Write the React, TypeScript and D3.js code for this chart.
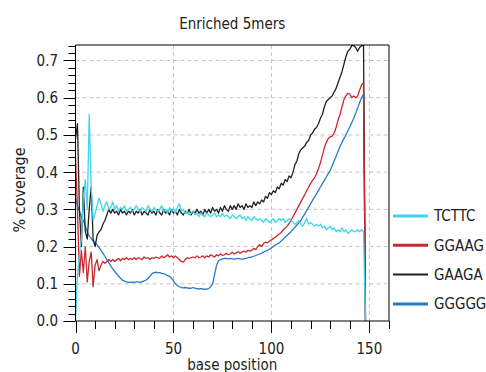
import React from "react";
import * as d3 from "d3";

const seriesNames = ["TCTTC", "GGAAG", "GAAGA", "GGGGG"];
const seriesColors = ["#3dd6ef", "#c8292f", "#222222", "#2b7bc4"];

const tcttc = [
  0.0, 0.12, 0.18, 0.22, 0.33, 0.38, 0.3, 0.555, 0.36, 0.27,
  0.29, 0.31, 0.33, 0.315, 0.295, 0.31, 0.32, 0.3, 0.305, 0.32,
  0.3, 0.31, 0.295, 0.305, 0.3, 0.31, 0.295, 0.3, 0.305, 0.295,
  0.3, 0.31, 0.3, 0.295, 0.305, 0.3, 0.295, 0.31, 0.3, 0.295,
  0.305, 0.3, 0.295, 0.3, 0.31, 0.295, 0.3, 0.29, 0.305, 0.295,
  0.3, 0.29, 0.305, 0.315, 0.295, 0.3, 0.29, 0.295, 0.285, 0.29,
  0.295, 0.285, 0.29, 0.28, 0.29, 0.285, 0.28, 0.29, 0.285, 0.28,
  0.285, 0.29, 0.28, 0.285, 0.28, 0.29, 0.28, 0.285, 0.28, 0.275,
  0.285, 0.28, 0.275, 0.28, 0.285, 0.275, 0.28, 0.27, 0.28, 0.275,
  0.27, 0.28, 0.275, 0.27, 0.275, 0.27, 0.265, 0.275, 0.27, 0.265,
  0.27, 0.275, 0.265, 0.27, 0.275, 0.27, 0.275, 0.265, 0.27, 0.275,
  0.27, 0.265, 0.26, 0.265, 0.27, 0.26, 0.255, 0.265, 0.275, 0.26,
  0.265, 0.26, 0.255, 0.26, 0.255, 0.26, 0.25, 0.255, 0.245, 0.25,
  0.255, 0.245, 0.25, 0.24, 0.245, 0.24, 0.25, 0.24, 0.245, 0.235,
  0.24, 0.245, 0.24, 0.24, 0.245, 0.24, 0.245, 0.24, 0.0, 0.0,
];

const ggaag = [
  0.44, 0.3, 0.12, 0.19, 0.13, 0.2, 0.105, 0.16, 0.185, 0.092,
  0.15, 0.165, 0.135, 0.15, 0.16, 0.155, 0.16, 0.165, 0.16, 0.165,
  0.16, 0.165, 0.168, 0.162, 0.168, 0.165, 0.17, 0.165, 0.168, 0.165,
  0.17, 0.165, 0.17, 0.168, 0.165, 0.172, 0.168, 0.17, 0.165, 0.17,
  0.168, 0.172, 0.17, 0.168, 0.175, 0.17, 0.173, 0.178, 0.172, 0.175,
  0.17, 0.175, 0.17, 0.165, 0.16, 0.158, 0.165, 0.17, 0.168, 0.17,
  0.172, 0.17, 0.175, 0.17, 0.172, 0.175, 0.17, 0.175, 0.172, 0.178,
  0.175, 0.172, 0.178, 0.175, 0.18, 0.176, 0.178, 0.182, 0.178, 0.18,
  0.185, 0.18, 0.183, 0.186, 0.182, 0.185, 0.188, 0.185, 0.19, 0.188,
  0.19, 0.195, 0.192, 0.2, 0.205, 0.2, 0.208, 0.212, 0.21, 0.215,
  0.218, 0.222, 0.225, 0.23, 0.234, 0.238, 0.245, 0.25, 0.255, 0.262,
  0.27, 0.28, 0.29, 0.3, 0.31, 0.32, 0.33, 0.34, 0.35, 0.36,
  0.37, 0.378, 0.385, 0.395, 0.41, 0.425, 0.445, 0.465, 0.48, 0.49,
  0.495, 0.497, 0.505, 0.52, 0.54, 0.555, 0.575, 0.595, 0.605, 0.612,
  0.61, 0.6, 0.605, 0.6, 0.605, 0.62, 0.635, 0.64, 0.0,
];

const gaaga = [
  0.49, 0.53, 0.3, 0.2, 0.36, 0.24, 0.22, 0.3, 0.36, 0.22,
  0.2, 0.23, 0.24, 0.245, 0.26, 0.27, 0.285, 0.3, 0.29, 0.3,
  0.29, 0.295, 0.285, 0.3, 0.29, 0.295, 0.285, 0.295, 0.29, 0.3,
  0.285, 0.295, 0.29, 0.3, 0.285, 0.295, 0.29, 0.285, 0.3, 0.29,
  0.295, 0.285, 0.3, 0.29, 0.285, 0.3, 0.29, 0.295, 0.285, 0.3,
  0.29, 0.295, 0.285, 0.3, 0.29, 0.285, 0.295, 0.29, 0.3, 0.285,
  0.295, 0.29, 0.3, 0.29, 0.295, 0.285, 0.3, 0.29, 0.3, 0.29,
  0.305, 0.295, 0.3, 0.29, 0.305, 0.295, 0.31, 0.3, 0.295, 0.31,
  0.3, 0.31, 0.3, 0.315, 0.305, 0.31, 0.3, 0.315, 0.305, 0.31,
  0.305, 0.32, 0.31, 0.32, 0.315, 0.325, 0.32, 0.335, 0.33, 0.345,
  0.34, 0.35, 0.345, 0.36, 0.355, 0.37, 0.365, 0.38, 0.375, 0.39,
  0.385, 0.4, 0.42, 0.43, 0.45, 0.46, 0.465, 0.47, 0.48, 0.485,
  0.5, 0.505, 0.515, 0.52, 0.53, 0.545, 0.555, 0.575, 0.59, 0.595,
  0.6, 0.605, 0.615, 0.625, 0.64, 0.655, 0.67, 0.69, 0.71, 0.725,
  0.73, 0.74, 0.74, 0.735, 0.725, 0.735, 0.74, 0.74, 0.0,
];

const ggggg = [
  0.33, 0.31, 0.295, 0.28, 0.27, 0.255, 0.24, 0.228, 0.222, 0.215,
  0.21, 0.205, 0.198, 0.19, 0.182, 0.174, 0.165, 0.157, 0.148, 0.14,
  0.133, 0.127, 0.12, 0.115, 0.11, 0.107, 0.105, 0.104, 0.104, 0.105,
  0.104, 0.105, 0.105, 0.104, 0.106, 0.108, 0.11, 0.115, 0.12, 0.127,
  0.13, 0.131, 0.13, 0.13, 0.128, 0.127, 0.125, 0.122, 0.12, 0.115,
  0.108, 0.1, 0.095, 0.092, 0.09, 0.089, 0.09, 0.089, 0.088, 0.088,
  0.09, 0.088, 0.087, 0.086, 0.087, 0.086, 0.085, 0.086, 0.087, 0.092,
  0.1, 0.125, 0.15, 0.162, 0.165, 0.167, 0.168, 0.168, 0.167, 0.168,
  0.167, 0.166, 0.167, 0.168, 0.167, 0.166, 0.167, 0.168, 0.17, 0.171,
  0.172, 0.174, 0.176, 0.178, 0.18, 0.182, 0.185, 0.188, 0.19, 0.193,
  0.197, 0.2, 0.204, 0.207, 0.21, 0.215, 0.22, 0.225, 0.23, 0.235,
  0.24, 0.246, 0.252, 0.258, 0.264, 0.27, 0.279, 0.288, 0.297, 0.306,
  0.315, 0.324, 0.333, 0.342, 0.351, 0.36, 0.369, 0.378, 0.387, 0.396,
  0.405, 0.417, 0.43, 0.443, 0.456, 0.469, 0.48, 0.49, 0.5, 0.511,
  0.522, 0.533, 0.545, 0.558, 0.572, 0.587, 0.6, 0.61, 0.0,
];

const seriesValues = [tcttc, ggaag, gaaga, ggggg];
const drawOrder = [3, 2, 1, 0];

const yTicks = [0, 0.1, 0.2, 0.3, 0.4, 0.5, 0.6, 0.7];
const xTicks = [0, 50, 100, 150];
const titleText = "Enriched 5mers";
const xLabel = "base position";
const yLabel = "% coverage";

const W = 486;
const H = 372;
const L = 75.5;
const R = 389;
const T = 45;
const B = 321;
const FONT = "'DejaVu Sans Condensed', 'DejaVu Sans', sans-serif";

export default function App() {
  const x = d3.scaleLinear().domain([0, 160]).range([L, R]);
  const y = d3.scaleLinear().domain([0, 0.7]).range([B, 60.5]);
  const line = d3
    .line<number>()
    .x((_, i) => x(i))
    .y((d) => y(d));

  const minorY = d3.range(0, 0.741, 0.02);
  const minorX = d3.range(0, 161, 10);

  return (
    <svg
      width={W}
      height={H}
      style={{ position: "absolute", left: 0, top: 0, background: "#fff" }}
      fontFamily={FONT}
    >
      <defs>
        <clipPath id="plotclip">
          <rect x={L} y={T} width={R - L} height={B - T} />
        </clipPath>
      </defs>
      <rect x={0} y={0} width={W} height={H} fill="#fff" />
      <text x={(L + R) / 2} y={29} textAnchor="middle" fontSize={15} fill="#222">
        {titleText}
      </text>
      {/* grid */}
      {yTicks.filter((t) => t > 0).map((t) => (
        <line key={"gy" + t} x1={L} x2={R} y1={y(t)} y2={y(t)} stroke="#c4c4c4" strokeDasharray="4,3" />
      ))}
      {xTicks.filter((t) => t > 0).map((t) => (
        <line key={"gx" + t} x1={x(t)} x2={x(t)} y1={T} y2={B} stroke="#c4c4c4" strokeDasharray="4,3" />
      ))}
      {/* series */}
      <g clipPath="url(#plotclip)">
        {drawOrder.map((si) => (
          <path
            key={seriesNames[si]}
            d={line(seriesValues[si]) || ""}
            fill="none"
            stroke={seriesColors[si]}
            strokeWidth={1.3}
            strokeLinejoin="round"
          />
        ))}
      </g>
      {/* frame */}
      <line x1={L} x2={R} y1={T} y2={T} stroke="#000" />
      <line x1={R} x2={R} y1={T} y2={B} stroke="#000" />
      <line x1={L} x2={L} y1={T} y2={B} stroke="#000" />
      <line x1={L} x2={R} y1={B} y2={B} stroke="#000" />
      {/* y ticks */}
      {minorY.map((t, i) => (
        <line key={"my" + i} x1={L - (i % 5 === 0 ? 12 : 7)} x2={L} y1={Math.round(y(t)) + 0.5} y2={Math.round(y(t)) + 0.5} stroke="#000" />
      ))}
      {yTicks.map((t) => (
        <text key={"yl" + t} x={58} y={y(t)} dy="0.36em" textAnchor="end" fontSize={15} fill="#222">
          {t.toFixed(1)}
        </text>
      ))}
      {/* x ticks */}
      {minorX.map((t) => (
        <line key={"mx" + t} x1={Math.round(x(t)) + 0.5} x2={Math.round(x(t)) + 0.5} y1={B} y2={B + (t % 50 === 0 ? 12 : 8)} stroke="#000" />
      ))}
      {xTicks.map((t) => (
        <text key={"xl" + t} x={x(t)} y={354} textAnchor="middle" fontSize={15} fill="#222">
          {t}
        </text>
      ))}
      <text x={(L + R) / 2} y={370} textAnchor="middle" fontSize={15} fill="#222">
        {xLabel}
      </text>
      <text transform={`translate(25, 190) rotate(-90)`} textAnchor="middle" fontSize={16} fill="#222">
        {yLabel}
      </text>
      {/* legend */}
      {seriesNames.map((n, i) => (
        <g key={n} transform={`translate(0, ${216 + i * 29.3})`}>
          <line x1={393} x2={428} y1={0} y2={0} stroke={seriesColors[i]} strokeWidth={i === 2 ? 2 : 3} />
          <text x={434} y={0} dy="0.36em" fontSize={15} fill="#222">
            {n}
          </text>
        </g>
      ))}
    </svg>
  );
}
